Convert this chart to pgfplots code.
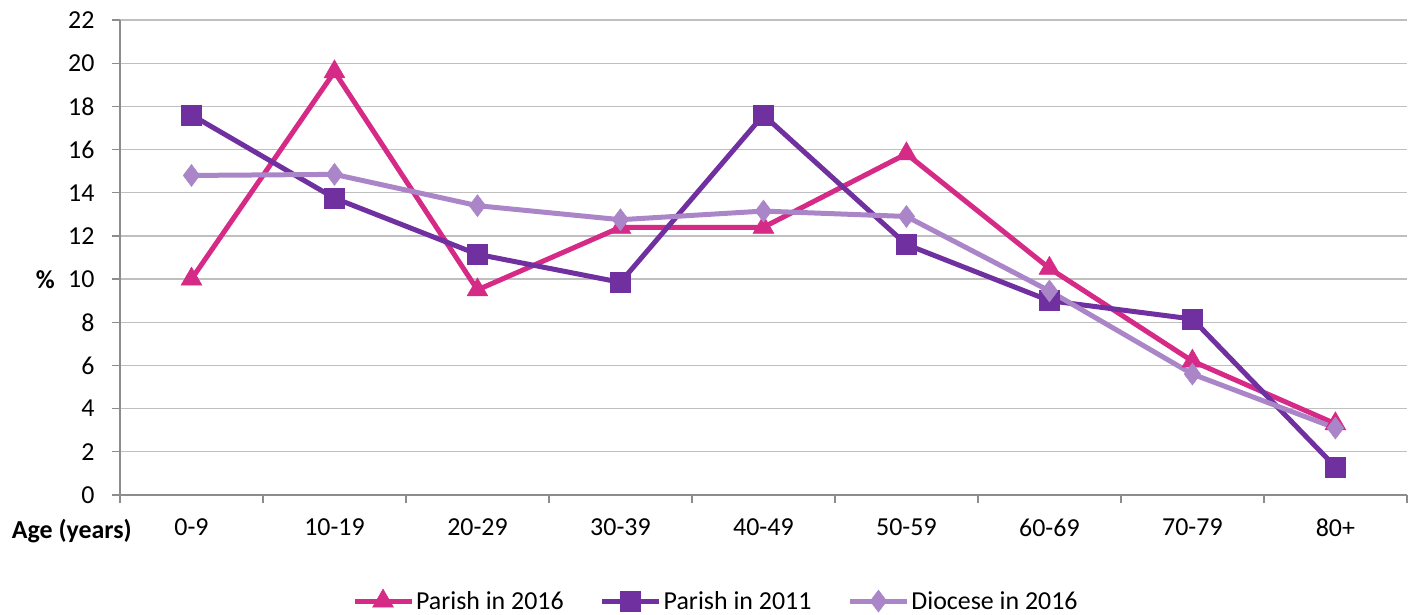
\documentclass[border=0pt]{standalone}
\usepackage{pgfplots}
\pgfplotsset{compat=1.18}
\usepackage{fontspec}
\setmainfont{Carlito}
\definecolor{cMag}{HTML}{D62A87}
\definecolor{cPur}{HTML}{7030A0}
\definecolor{cLil}{HTML}{AA86C8}
\definecolor{cGrid}{HTML}{BFBFBF}
\definecolor{cAx}{HTML}{8C8C8C}
\begin{document}
\begin{tikzpicture}
\useasboundingbox (-120bp,-120bp) rectangle (1300bp,495bp);
\begin{axis}[
  scale only axis,
  width=1287bp, height=475bp,
  xmin=-0.5, xmax=8.5, ymin=0, ymax=22,
  axis lines*=left,
  axis line style={draw=cAx, line width=1.3bp, -},
  ytick={0,2,...,22},
  ymajorgrids,
  grid style={draw=cGrid, line width=1.3bp},
  xtick={-0.5,0.5,...,8.5},
  xticklabels={},
  extra x ticks={0,1,2,3,4,5,6,7,8},
  extra x tick labels={0-9,10-19,20-29,30-39,40-49,50-59,60-69,70-79,80+},
  extra x tick style={major tick length=0pt, grid=none},
  tick align=outside,
  major tick length=8bp,
  tick style={draw=cAx, line width=1.3bp},
  /pgf/number format/assume math mode=true,
  tick label style={font=\fontsize{26}{30}\selectfont, text=black},
  yticklabel style={xshift=-14bp},
  xticklabel style={yshift=-20bp},
  ylabel={\textbf{\%}},
  ylabel style={rotate=-90, at={(axis description cs:-0.058,0.453)}, anchor=center, font=\fontsize{26}{30}\selectfont},
  xlabel={\textbf{Age (years)}},
  xlabel style={at={(axis description cs:0.0093,-0.076)}, anchor=east, inner sep=0pt, font=\fontsize{26}{30}\selectfont},
  legend columns=3,
  legend style={draw=none, fill=none, at={(axis description cs:0.463,-0.223)}, anchor=center,
    font=\fontsize{26}{30}\selectfont, /tikz/every even column/.append style={column sep=34bp}},
  legend image code/.code={\draw[mark repeat=2,mark phase=2] plot coordinates {(0bp,0bp)(28.5bp,0bp)(57bp,0bp)};},
  every axis plot/.append style={line width=5bp},
]
\addplot[color=cMag, mark=triangle*, mark size=12bp, mark options={solid, fill=cMag, line width=0.5bp}]
  coordinates {(0,10.0)(1,19.6)(2,9.5)(3,12.4)(4,12.4)(5,15.8)(6,10.5)(7,6.2)(8,3.3)};
\addlegendentry{Parish in 2016}
\addplot[color=cPur, mark=square*, mark size=10bp, mark options={solid, fill=cPur, line width=0.5bp}]
  coordinates {(0,17.6)(1,13.75)(2,11.15)(3,9.85)(4,17.6)(5,11.6)(6,9.0)(7,8.15)(8,1.3)};
\addlegendentry{Parish in 2011}
\addplot[color=cLil, mark=diamond*, mark size=11bp, mark options={solid, fill=cLil, line width=0.5bp}]
  coordinates {(0,14.8)(1,14.85)(2,13.4)(3,12.75)(4,13.15)(5,12.9)(6,9.45)(7,5.6)(8,3.1)};
\addlegendentry{Diocese in 2016}
\end{axis}
\end{tikzpicture}
\end{document}
